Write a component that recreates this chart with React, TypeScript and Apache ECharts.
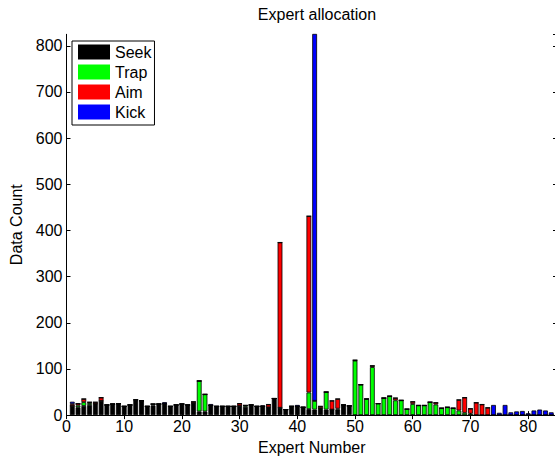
import React, { useEffect, useRef } from "react";
import * as echarts from "echarts";

const experts = [
  1, 2, 3, 4, 5, 6, 7, 8, 9, 10, 11, 12, 13, 14, 15, 16, 17, 18, 19, 20,
  21, 22, 23, 24, 25, 26, 27, 28, 29, 30, 31, 32, 33, 34, 35, 36, 37, 38, 39, 40,
  41, 42, 43, 44, 45, 46, 47, 48, 49, 50, 51, 52, 53, 54, 55, 56, 57, 58, 59, 60,
  61, 62, 63, 64, 65, 66, 67, 68, 69, 70, 71, 72, 73, 74, 75, 76, 77, 78, 79, 80,
  81, 82, 83, 84,
];
const xMin = 0;
const xMax = 85;
const xTickLabels = ["0", "10", "20", "30", "40", "50", "60", "70", "80"];

const seek = [
  20, 17, 20, 22, 25, 31, 22, 24, 25, 19,
  22, 32, 31, 19, 21, 24, 25, 19, 22, 24,
  22, 26, 8, 8, 21, 19, 19, 19, 19, 20,
  18, 22, 19, 19, 17, 36, 16, 12, 19, 19,
  17, 13, 12, 15, 12, 12, 12, 22, 20, 0,
  0, 0, 0, 0, 0, 0, 0, 0, 0, 0,
  0, 0, 0, 0, 0, 0, 0, 0, 0, 0,
  0, 0, 0, 0, 0, 0, 0, 0, 0, 0,
  0, 0, 0, 0,
];

const trap = [
  0, 4, 8, 4, 0, 0, 0, 0, 0, 0,
  0, 1, 0, 0, 3, 0, 0, 0, 0, 0,
  0, 0, 66, 37, 0, 0, 0, 0, 0, 0,
  3, 0, 0, 0, 0, 0, 0, 0, 0, 0,
  0, 36, 19, 0, 38, 0, 2, 0, 0, 118,
  66, 35, 104, 25, 37, 41, 32, 32, 13, 24,
  21, 21, 28, 23, 15, 17, 15, 10, 5, 3,
  0, 0, 0, 0, 0, 0, 0, 0, 0, 0,
  0, 0, 0, 0,
];

const aim = [
  4, 4, 7, 2, 3, 7, 0, 0, 0, 0,
  0, 0, 0, 0, 0, 0, 0, 0, 0, 0,
  0, 3, 0, 0, 0, 0, 0, 0, 0, 5,
  0, 0, 0, 0, 6, 0, 358, 0, 0, 0,
  0, 382, 0, 4, 0, 19, 21, 0, 0, 1,
  0, 0, 3, 0, 0, 0, 5, 0, 0, 5,
  0, 0, 0, 4, 0, 0, 0, 23, 33, 11,
  27, 23, 16, 0, 0, 0, 0, 0, 0, 0,
  0, 0, 0, 0,
];

const kick = [
  5, 0, 0, 0, 0, 0, 0, 0, 0, 0,
  0, 0, 0, 0, 0, 0, 3, 0, 0, 0,
  0, 0, 0, 0, 3, 0, 0, 0, 0, 0,
  0, 0, 0, 2, 0, 0, 0, 0, 0, 3,
  0, 0, 1000, 0, 0, 0, 0, 0, 0, 0,
  0, 0, 0, 0, 0, 0, 0, 0, 0, 0,
  0, 0, 0, 0, 0, 0, 0, 0, 0, 0,
  0, 0, 0, 22, 5, 22, 6, 8, 9, 4,
  10, 12, 10, 6,
];

const seriesNames = ["Seek", "Trap", "Aim", "Kick"];
const seriesColors = ["#000000", "#00ff00", "#ff0000", "#0000ff"];
const seriesValues = [seek, trap, aim, kick];

const FONT = "'Liberation Sans', Arial, sans-serif";

export default function App() {
  const ref = useRef<HTMLDivElement>(null);
  useEffect(() => {
    if (!ref.current) return;
    const chart = echarts.init(ref.current, null, { renderer: "svg" });
    // category positions xMin..xMax (boundaryGap false => category i sits at value i)
    const cats: string[] = [String(xMin), ...experts.map(String), String(xMax)];
    const isTick = (idx: number) => xTickLabels.indexOf(cats[idx]) >= 0;
    const axisLine = { show: true, lineStyle: { color: "#000", width: 1 } };
    const tick = { show: true, inside: true, length: 4, lineStyle: { color: "#000", width: 1 } };
    const catTick = { ...tick, interval: (idx: number) => isTick(idx) };
    chart.setOption({
      animation: false,
      backgroundColor: "#ffffff",
      textStyle: { fontFamily: FONT },
      title: {
        text: "Expert allocation",
        left: 312,
        top: 1,
        textAlign: "center",
        textStyle: { fontFamily: FONT, fontSize: 16, fontWeight: "normal", color: "#000" },
      },
      legend: {
        data: seriesNames,
        orient: "vertical",
        left: 72,
        top: 41,
        backgroundColor: "#ffffff",
        borderColor: "#000",
        borderWidth: 1,
        borderRadius: 0,
        padding: [3, 3, 5, 6],
        itemWidth: 32,
        itemHeight: 15,
        itemGap: 4,
        icon: "rect",
        itemStyle: { borderWidth: 0 },
        textStyle: { fontFamily: FONT, fontSize: 16, color: "#000" },
      },
      grid: { left: 66.5, right: 3, top: 34.3, bottom: 40.4, containLabel: false },
      xAxis: [
        {
          type: "category",
          data: cats,
          boundaryGap: false,
          name: "Expert Number",
          nameLocation: "middle",
          nameGap: 23,
          nameTextStyle: { fontFamily: FONT, fontSize: 16, color: "#000" },
          axisLine,
          axisTick: catTick,
          axisLabel: {
            color: "#000",
            fontSize: 16,
            fontFamily: FONT,
            margin: 3,
            interval: (idx: number) => isTick(idx),
          },
          splitLine: { show: false },
        },
        {
          type: "category",
          data: cats,
          boundaryGap: false,
          position: "top",
          axisLine,
          axisTick: catTick,
          axisLabel: { show: false },
          splitLine: { show: false },
        },
      ],
      yAxis: [
        {
          type: "value",
          min: 0,
          max: 825,
          interval: 100,
          name: "Data Count",
          nameLocation: "middle",
          nameGap: 40,
          nameRotate: 90,
          nameTextStyle: { fontFamily: FONT, fontSize: 16, color: "#000" },
          axisLine,
          axisTick: tick,
          axisLabel: { color: "#000", fontSize: 16, fontFamily: FONT, margin: 4, showMaxLabel: false },
          splitLine: { show: false },
        },
        {
          type: "value",
          position: "right",
          min: 0,
          max: 825,
          interval: 100,
          axisLine,
          axisTick: tick,
          axisLabel: { show: false },
          splitLine: { show: false },
        },
      ],
      series: seriesNames.map((name, si) => ({
        name,
        type: "bar",
        stack: "total",
        xAxisIndex: 0,
        yAxisIndex: 0,
        barWidth: 4.8,
        clip: true,
        itemStyle: { color: seriesColors[si], borderColor: "#000", borderWidth: 0.8 },
        data: [null, ...seriesValues[si], null],
      })),
    });
    return () => chart.dispose();
  }, []);
  return (
    <div
      ref={ref}
      style={{ position: "fixed", left: 0, top: 0, width: 560, height: 460, background: "#fff" }}
    />
  );
}
